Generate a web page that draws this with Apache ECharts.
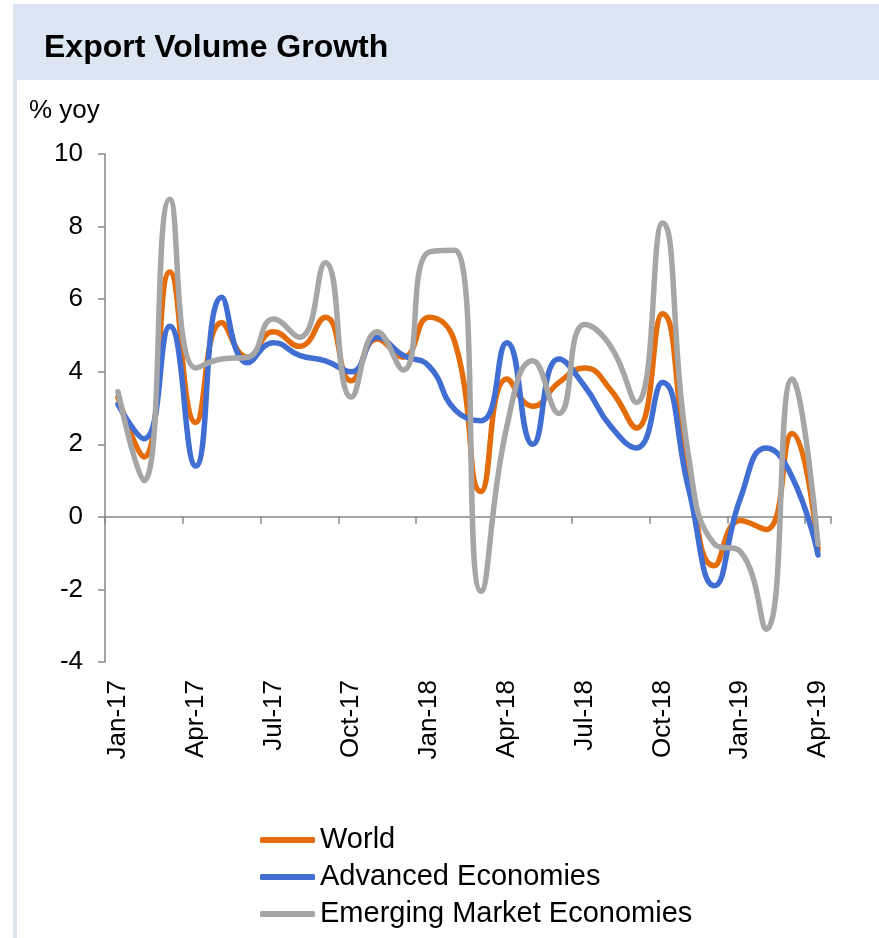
<!DOCTYPE html>
<html>
<head>
<meta charset="utf-8">
<title>Export Volume Growth</title>
<script src="https://cdn.jsdelivr.net/npm/echarts@6/dist/echarts.min.js"></script>
<style>
  html, body { margin: 0; padding: 0; background: #ffffff; }
  #chart { width: 879px; height: 938px; }
</style>
</head>
<body>
<div id="chart"></div>
<script>
// Monthly export volume growth, % year on year
const months = [
  'Jan-17','Feb-17','Mar-17','Apr-17','May-17','Jun-17','Jul-17','Aug-17','Sep-17','Oct-17','Nov-17','Dec-17',
  'Jan-18','Feb-18','Mar-18','Apr-18','May-18','Jun-18','Jul-18','Aug-18','Sep-18','Oct-18','Nov-18','Dec-18',
  'Jan-19','Feb-19','Mar-19','Apr-19'
];
const world = [3.3, 1.65, 6.75, 2.6, 5.35, 4.4, 5.1, 4.7, 5.5, 3.75, 4.9, 4.4,
  5.5, 4.8, 0.7, 3.8, 3.05, 3.7, 4.1, 3.5, 2.45, 5.6, 1.4, -1.35,
  -0.1, -0.35, 2.3, -0.9];
const advanced = [3.1, 2.15, 5.25, 1.4, 6.05, 4.25, 4.8, 4.45, 4.3, 4.0, 4.95, 4.45,
  4.15, 2.95, 2.65, 4.8, 2.0, 4.35, 3.6, 2.5, 1.9, 3.7, 0.8, -1.9,
  0.5, 1.9, 1.1, -1.05];
const emerging = [3.45, 1.0, 8.75, 4.1, 4.35, 4.4, 5.45, 4.95, 7.0, 3.3, 5.1, 4.05,
  7.3, 7.35, -2.05, 2.5, 4.3, 2.85, 5.3, 4.7, 3.15, 8.1, 1.7, -0.75,
  -0.95, -3.1, 3.8, -0.75];
const seriesNames = ['World', 'Advanced Economies', 'Emerging Market Economies'];
const yTicks = { min: -4, max: 10, step: 2 };

const FONT = '"Liberation Sans", Arial, Helvetica, sans-serif';
const AXIS_GREY = '#868686';
const colors = ['#e46c0a', '#416ed2', '#a6a6a6'];

const chart = echarts.init(document.getElementById('chart'));

function lineSeries(name, data, color) {
  return {
    name: name,
    type: 'line',
    data: data,
    xAxisIndex: 0,
    yAxisIndex: 0,
    smooth: 0.5,
    symbol: 'none',
    lineStyle: { color: color, width: 5.5, cap: 'round', join: 'round' },
    itemStyle: { color: color },
    emphasis: { disabled: true }
  };
}

chart.setOption({
  animation: false,
  textStyle: { fontFamily: FONT },
  graphic: [
    // header band and side rule of the panel
    { type: 'rect', shape: { x: 13, y: 4, width: 866, height: 76 }, style: { fill: '#dce6f2' }, silent: true, z: -1 },
    { type: 'rect', shape: { x: 13, y: 80, width: 4, height: 858 }, style: { fill: '#dce6f2' }, silent: true, z: -1 },
    { type: 'text', left: 44, top: 32, style: { text: 'Export Volume Growth', fill: '#000', font: 'bold 32px ' + FONT } },
    { type: 'text', left: 29, top: 98, style: { text: '% yoy', fill: '#000', font: '26px ' + FONT } }
  ],
  grid: { left: 105, right: 48, top: 154, bottom: 276, containLabel: false },
  legend: {
    orient: 'vertical',
    left: 255,
    top: 820,
    icon: 'roundRect',
    itemWidth: 55,
    itemHeight: 6,
    itemGap: 7,
    data: seriesNames,
    textStyle: { fontSize: 29, color: '#000', fontFamily: FONT, lineHeight: 30 },
    selectedMode: false
  },
  xAxis: [
    {
      // zero line with quarterly tick marks
      type: 'category',
      data: months,
      boundaryGap: true,
      axisLine: { onZero: true, lineStyle: { color: AXIS_GREY, width: 1.5 } },
      axisTick: { show: true, interval: 2, length: 7, lineStyle: { color: AXIS_GREY, width: 1.5 } },
      axisLabel: { show: false },
      splitLine: { show: false }
    },
    {
      // quarterly month labels along the bottom of the plot
      type: 'category',
      data: months,
      boundaryGap: true,
      position: 'bottom',
      axisLine: { show: false, onZero: false },
      axisTick: { show: false },
      axisLabel: { interval: 2, rotate: 90, fontSize: 26, color: '#000', fontFamily: FONT, margin: 18 },
      splitLine: { show: false }
    }
  ],
  yAxis: {
    type: 'value',
    min: yTicks.min,
    max: yTicks.max,
    interval: yTicks.step,
    axisLine: { show: true, lineStyle: { color: AXIS_GREY, width: 1.5 } },
    axisTick: { show: true, length: 7, lineStyle: { color: AXIS_GREY, width: 1.5 } },
    axisLabel: { fontSize: 26, color: '#000', fontFamily: FONT, margin: 22 },
    splitLine: { show: false }
  },
  series: [
    lineSeries(seriesNames[0], world, colors[0]),
    lineSeries(seriesNames[1], advanced, colors[1]),
    lineSeries(seriesNames[2], emerging, colors[2])
  ]
});
</script>
</body>
</html>
